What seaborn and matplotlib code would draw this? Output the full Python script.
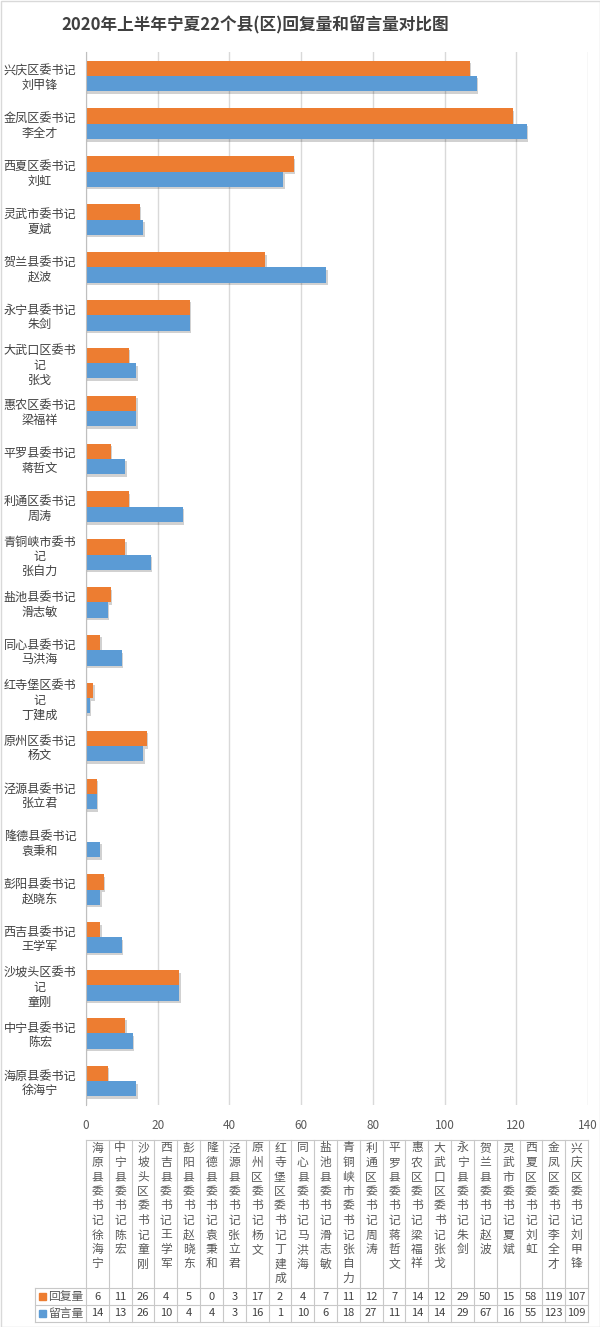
import numpy as np
import pandas as pd
import matplotlib
matplotlib.use("Agg")
import matplotlib.pyplot as plt
import matplotlib.patheffects as pe
from matplotlib.lines import Line2D
from matplotlib.patches import Rectangle
import seaborn as sns

# ---------------- data (table order, left to right) ----------------
districts = ["海原县", "中宁县", "沙坡头区", "西吉县", "彭阳县", "隆德县", "泾源县",
             "原州区", "红寺堡区", "同心县", "盐池县", "青铜峡市", "利通区", "平罗县",
             "惠农区", "大武口区", "永宁县", "贺兰县", "灵武市", "西夏区", "金凤区", "兴庆区"]
persons = ["徐海宁", "陈宏", "童刚", "王学军", "赵晓东", "袁秉和", "张立君",
           "杨文", "丁建成", "马洪海", "滑志敏", "张自力", "周涛", "蒋哲文",
           "梁福祥", "张戈", "朱剑", "赵波", "夏斌", "刘虹", "李全才", "刘甲锋"]
reply = [6, 11, 26, 4, 5, 0, 3, 17, 2, 4, 7, 11, 12, 7, 14, 12, 29, 50, 15, 58, 119, 107]
message = [14, 13, 26, 10, 4, 4, 3, 16, 1, 10, 6, 18, 27, 11, 14, 14, 29, 67, 16, 55, 123, 109]
series = ["回复量", "留言量"]
colors = ["#ED7D31", "#5B9BD5"]
xticks = [0, 20, 40, 60, 80, 100, 120, 140]
title = "2020年上半年宁夏22个县(区)回复量和留言量对比图"

full_names = [d + "委书记" + p for d, p in zip(districts, persons)]


def wrap_label(d, p):
    office = d + "委书记"
    if len(office) > 6:
        office = office[:6] + "\n" + office[6:]
    return office + "\n" + p


labels = [wrap_label(d, p) for d, p in zip(districts, persons)]

# plot order: top to bottom = reversed table order
order = labels[::-1]
df = pd.DataFrame({
    "name": labels * 2,
    "series": [series[0]] * len(labels) + [series[1]] * len(labels),
    "value": reply + message,
})

# ---------------- figure ----------------
W, H = 600, 1327
fig = plt.figure(figsize=(W / 100, H / 100), dpi=100)
plt.rcParams['font.family'] = ['Noto Sans CJK SC', 'DejaVu Sans']
fam = ['Noto Sans CJK SC', 'DejaVu Sans']


def fx(px):
    return px / W


def fy(py):
    return 1 - py / H


ax_l, ax_r, ax_t, ax_b = 86, 588, 52, 1105
ax = fig.add_axes([fx(ax_l), fy(ax_b), fx(ax_r - ax_l), (ax_b - ax_t) / H])

sns.barplot(data=df, y="name", x="value", hue="series", order=order,
            hue_order=series, palette=colors, orient="h", width=0.64,
            saturation=1, ax=ax, legend=False)

for p in ax.patches:
    p.set_linewidth(0)
    p.set_path_effects([pe.SimplePatchShadow(offset=(1.0, -1.8), alpha=0.18, shadow_rgbFace="#000000"),
                        pe.Normal()])

ax.set_xlim(0, 140)
ax.set_xticks(xticks)
ax.xaxis.grid(True, color="#d9d9d9", linewidth=1)
ax.yaxis.grid(False)
ax.set_axisbelow(True)
for s in ["top", "right", "bottom"]:
    ax.spines[s].set_visible(False)
ax.spines["left"].set_color("#bfbfbf")
ax.tick_params(axis="both", length=0)
ax.tick_params(axis="x", pad=10, labelsize=8.5, labelcolor="#595959")
ax.tick_params(axis="y", pad=7, labelsize=8.7, labelcolor="#404040")
for t in ax.get_yticklabels():
    t.set_multialignment("center")
    t.set_linespacing(1.15)
ax.set_xlabel("")
ax.set_ylabel("")

fig.text(fx(255), fy(25), title, ha="center", va="center", fontsize=12,
         fontweight="bold", color="#404040", family=fam)

# ---------------- data table ----------------
t_top, t_hdr, t_r1, t_bot = 1140, 1288, 1305, 1322
lab_l = 35
n = len(districts)
cw = (ax_r - ax_l) / n
lc = "#c8c8c8"


def hline(y, x0, x1):
    fig.add_artist(Line2D([fx(x0), fx(x1)], [fy(y), fy(y)], color=lc, lw=0.8))


def vline(x, y0, y1):
    fig.add_artist(Line2D([fx(x), fx(x)], [fy(y0), fy(y1)], color=lc, lw=0.8))


hline(t_top, ax_l, ax_r)
hline(t_hdr, lab_l, ax_r)
hline(t_r1, lab_l, ax_r)
hline(t_bot, lab_l, ax_r)
vline(lab_l, t_hdr, t_bot)
for i in range(n + 1):
    vline(ax_l + i * cw, t_top, t_bot)

for i, name in enumerate(full_names):
    cx = ax_l + (i + 0.5) * cw
    for k, ch in enumerate(name):
        fig.text(fx(cx), fy(1148 + k * 14.5), ch, ha="center", va="center",
                 fontsize=8.5, color="#595959", family=fam)
    fig.text(fx(cx), fy((t_hdr + t_r1) / 2), str(reply[i]), ha="center", va="center",
             fontsize=8, color="#404040", family=fam)
    fig.text(fx(cx), fy((t_r1 + t_bot) / 2), str(message[i]), ha="center", va="center",
             fontsize=8, color="#404040", family=fam)

for j, (sname, col, (y0, y1)) in enumerate(zip(series, colors, [(t_hdr, t_r1), (t_r1, t_bot)])):
    yc = (y0 + y1) / 2
    fig.add_artist(Rectangle((fx(39), fy(yc + 3.5)), fx(7), 7 / H, color=col,
                             transform=fig.transFigure))
    fig.text(fx(48), fy(yc), sname, ha="left", va="center", fontsize=8.5,
             color="#595959", family=fam)

fig.add_artist(Rectangle((0.5 / W, 0.5 / H), 1 - 1 / W, 1 - 1 / H, fill=False,
                         edgecolor="#d9d9d9", lw=1, transform=fig.transFigure))

fig.savefig("out.png", dpi=100, facecolor="white")
